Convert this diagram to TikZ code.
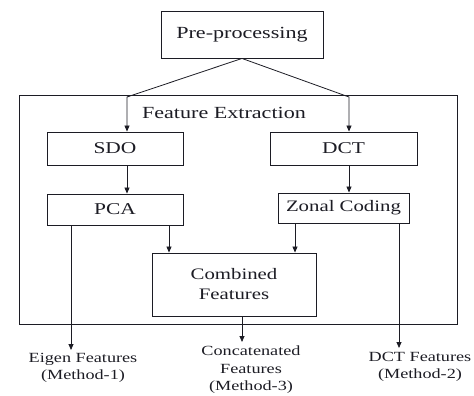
\documentclass[tikz,border=0pt]{standalone}
\usepackage{fontspec}
\setmainfont{Liberation Serif}[FakeStretch=1.3]
\usetikzlibrary{arrows.meta}
\definecolor{ink}{HTML}{1C1C24}
\tikzset{
  box/.style={draw=ink, line width=0.9pt, rectangle, inner sep=0pt, text=ink, align=center},
  lbl/.style={text=ink, align=center, inner sep=0pt},
  ln/.style={draw=ink, line width=0.8pt},
  arr/.style={ln, -{Triangle[length=6pt,width=5pt]}}
}
\begin{document}
\begin{tikzpicture}[x=1pt,y=-1pt]
\useasboundingbox (0,0) rectangle (474,396);
% outer box
\node[box, minimum width=438pt, minimum height=229pt] (fe) at (238,209.5) {};
\node[lbl, font=\fontsize{17}{19}\selectfont] (fet) at (224,113) {Feature Extraction};
% boxes
\node[box, minimum width=162pt, minimum height=47pt, font=\fontsize{17}{19}\selectfont] (pre) at (242,34.5) {Pre-processing};
\node[box, minimum width=136pt, minimum height=33pt, font=\fontsize{16.5}{19}\selectfont] (sdo) at (115,148.5) {SDO};
\node[box, minimum width=147pt, minimum height=33pt, font=\fontsize{16.5}{19}\selectfont] (dct) at (343.5,148.5) {DCT};
\node[box, minimum width=136pt, minimum height=31pt, font=\fontsize{16.5}{19}\selectfont] (pca) at (115,209.5) {PCA};
\node[box, minimum width=131pt, minimum height=30pt, font=\fontsize{16}{19}\selectfont] (zon) at (343.5,208) {Zonal Coding};
\node[box, minimum width=164pt, minimum height=63pt, font=\fontsize{16}{20}\selectfont] (comb) at (234,284.5) {Combined\\Features};
% output labels
\node[lbl, anchor=north, font=\fontsize{14}{17}\selectfont] (eig) at (83,353) {Eigen Features\\(Method-1)};
\node[lbl, anchor=north, font=\fontsize{14}{17.5}\selectfont] (cat) at (251,346) {Concatenated\\Features\\(Method-3)};
\node[lbl, anchor=north, font=\fontsize{14}{17}\selectfont] (dctf) at (420,352) {DCT Features\\(Method-2)};
% coordinates
\coordinate (j1) at (127,97);
\coordinate (j2) at (349,97);
\coordinate (p1) at (169,0);
\coordinate (z1) at (295,0);
\coordinate (e1) at (71,350);
\coordinate (c1) at (242,342);
\coordinate (d1) at (399,348);
% connectors
\draw[arr] (pre.south) -- (j1) -- (j1 |- sdo.north);
\draw[arr] (pre.south) -- (j2) -- (j2 |- dct.north);
\draw[arr] (sdo.south -| j1) -- (pca.north -| j1);
\draw[arr] (dct.south -| j2) -- (zon.north -| j2);
\draw[arr] (pca.south -| p1) -- (comb.north -| p1);
\draw[arr] (zon.south -| z1) -- (comb.north -| z1);
\draw[arr] (pca.south -| e1) -- (e1);
\draw[arr] (comb.south -| c1) -- (c1);
\draw[arr] (zon.south -| d1) -- (d1);
\end{tikzpicture}
\end{document}
